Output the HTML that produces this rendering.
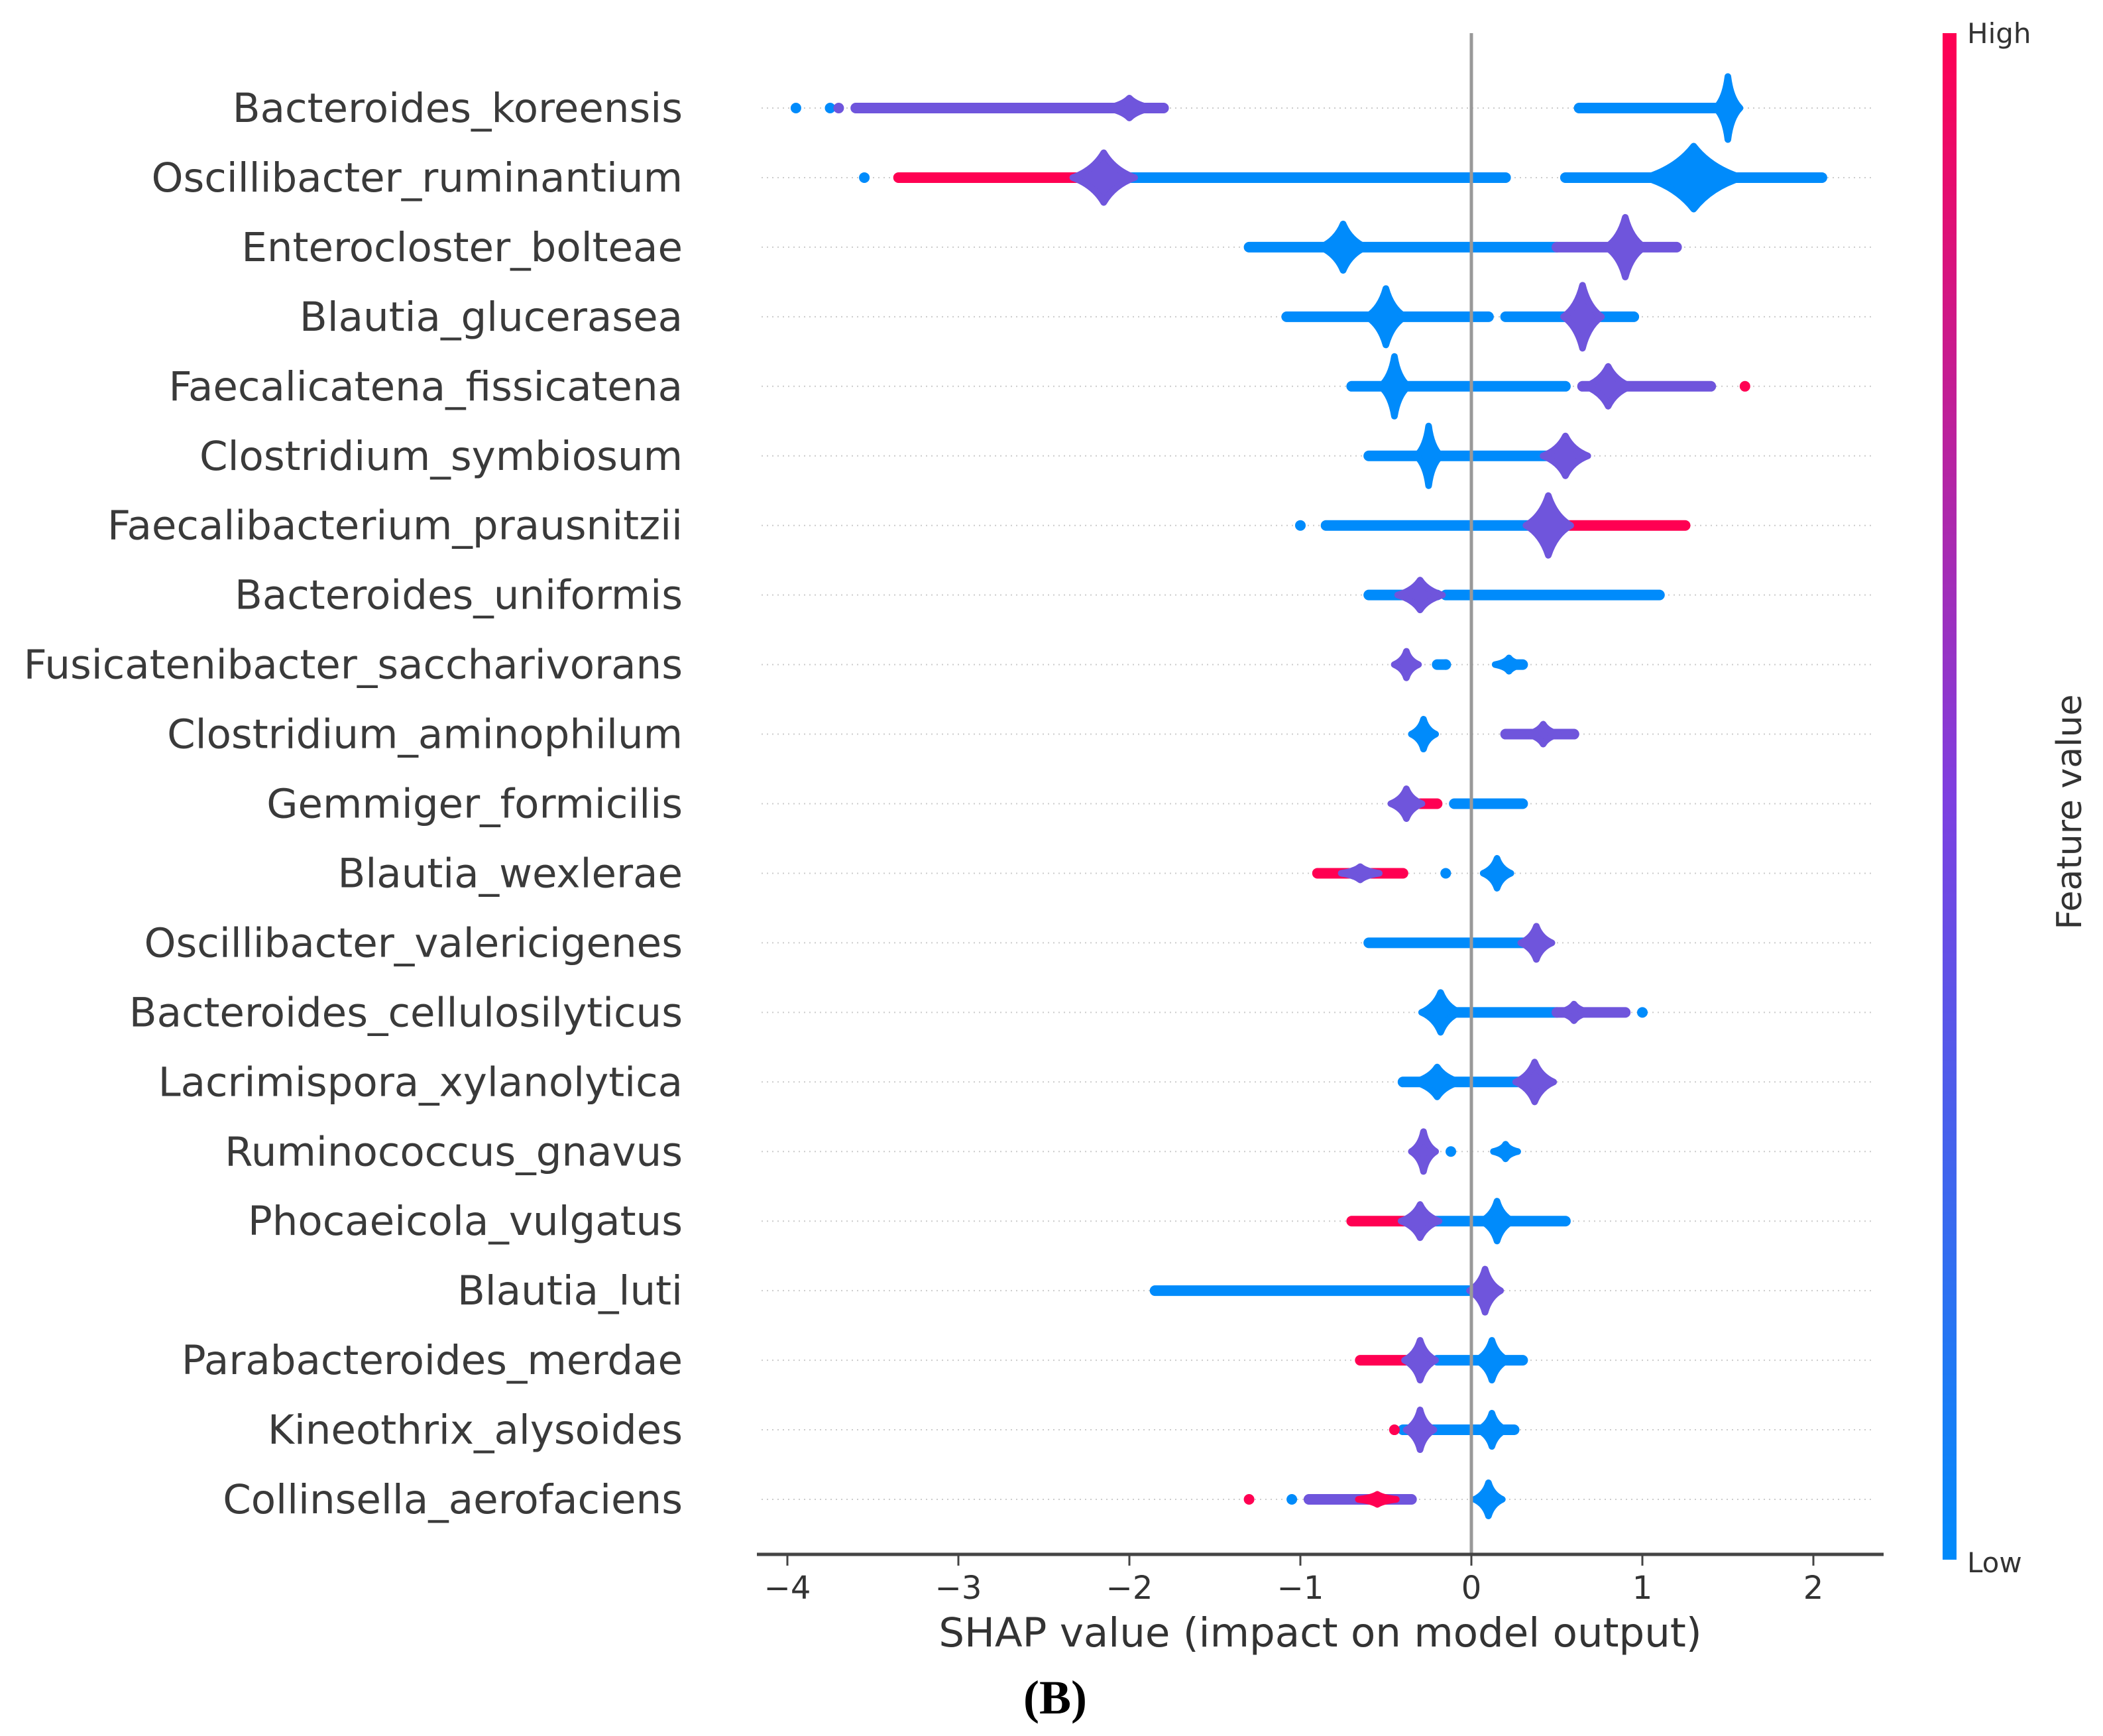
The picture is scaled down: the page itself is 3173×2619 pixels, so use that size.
<!DOCTYPE html>
<html><head><meta charset="utf-8"><style>
html,body{margin:0;padding:0;background:#fff;}
svg{display:block;}
text{font-family:"DejaVu Sans","Liberation Sans",sans-serif;}
</style></head><body>
<svg id="chart" width="3173" height="2619" viewBox="0 0 3173 2619" xmlns="http://www.w3.org/2000/svg">
<defs>
<linearGradient id="cbar" x1="0" y1="0" x2="0" y2="1">
<stop offset="0" stop-color="#ff0052"/><stop offset="0.5" stop-color="#7e3fe0"/><stop offset="1" stop-color="#008bfb"/>
</linearGradient>
</defs>
<g id="grid"></g>
<g id="marks"></g>
<line x1="2220" y1="50" x2="2220" y2="2345" stroke="#999" stroke-width="5"/>
<g id="axis"></g>
<text x="1992" y="2484" font-size="61" text-anchor="middle" fill="#333">SHAP value (impact on model output)</text>
<text x="1592" y="2585" font-size="72" font-weight="bold" text-anchor="middle" fill="#000" style="font-family:'Liberation Serif',serif">(B)</text>
<rect x="2931" y="50" width="21" height="2303" fill="url(#cbar)"/>
<text x="2968" y="65" font-size="42" fill="#333">High</text>
<text x="2968" y="2372" font-size="42" fill="#333">Low</text>
<text transform="translate(3140,1225) rotate(-90)" font-size="52" text-anchor="middle" fill="#333">Feature value</text>
</svg>
<script>
const features = ["Bacteroides_koreensis","Oscillibacter_ruminantium","Enterocloster_bolteae","Blautia_glucerasea","Faecalicatena_fissicatena","Clostridium_symbiosum","Faecalibacterium_prausnitzii","Bacteroides_uniformis","Fusicatenibacter_saccharivorans","Clostridium_aminophilum","Gemmiger_formicilis","Blautia_wexlerae","Oscillibacter_valericigenes","Bacteroides_cellulosilyticus","Lacrimispora_xylanolytica","Ruminococcus_gnavus","Phocaeicola_vulgatus","Blautia_luti","Parabacteroides_merdae","Kineothrix_alysoides","Collinsella_aerofaciens"];
const xTicks = [-4,-3,-2,-1,0,1,2];
const xTickLabels = ["\u22124","\u22123","\u22122","\u22121","0","1","2"];
// bands: [row, shapMin, shapMax, colour]
const bands = [
[0,-3.6,-1.8,"m"],[0,0.63,1.5,"b"],
[1,-3.35,-2.1,"r"],[1,-2.1,0.2,"b"],[1,0.55,2.05,"b"],
[2,-1.3,0.5,"b"],[2,0.5,1.2,"m"],
[3,-1.08,0.1,"b"],[3,0.2,0.95,"b"],
[4,-0.7,0.55,"b"],[4,0.65,1.4,"m"],
[5,-0.6,0.5,"b"],
[6,-0.85,0.5,"b"],[6,0.5,1.25,"r"],
[7,-0.6,-0.2,"b"],[7,-0.15,1.1,"b"],
[8,-0.2,-0.15,"b"],[8,0.2,0.3,"b"],
[9,0.2,0.6,"m"],
[10,-0.3,-0.2,"r"],[10,-0.1,0.3,"b"],
[11,-0.9,-0.4,"r"],
[12,-0.6,0.4,"b"],
[13,-0.2,0.5,"b"],[13,0.5,0.9,"m"],
[14,-0.4,0.45,"b"],
[16,-0.7,-0.25,"r"],[16,-0.25,0.55,"b"],
[17,-1.85,0.1,"b"],
[18,-0.65,-0.25,"r"],[18,-0.2,0.3,"b"],
[19,-0.4,0.25,"b"],
[20,-0.95,-0.35,"m"]
];
// blobs: [row, shapCentre, shapHalfWidth, density, colour]
const blobs = [
[0,-2.0,0.1,3,"m"],[0,1.5,0.04,9.5,"b"],
[1,-2.15,0.15,7.5,"m"],[1,1.3,0.25,9.5,"b"],
[2,-0.75,0.1,7,"b"],[2,0.9,0.08,9,"m"],
[3,-0.5,0.08,8.5,"b"],[3,0.65,0.08,9.5,"m"],
[4,-0.45,0.05,9,"b"],[4,0.8,0.1,6,"m"],
[5,-0.25,0.04,9,"b"],[5,0.55,0.1,6,"m"],
[6,0.45,0.1,9,"m"],
[7,-0.3,0.1,4.5,"m"],
[8,-0.38,0.04,4,"m"],[8,0.22,0.05,2,"b"],
[9,-0.28,0.04,4.5,"b"],[9,0.42,0.06,3,"m"],
[10,-0.38,0.06,4.5,"m"],
[11,-0.65,0.08,2,"m"],[11,0.15,0.05,4.5,"b"],
[12,0.38,0.06,5,"m"],
[13,-0.18,0.08,6,"b"],[13,0.6,0.06,2.5,"m"],
[14,-0.2,0.1,4.5,"b"],[14,0.37,0.08,6,"m"],
[15,-0.28,0.04,6,"m"],[15,0.2,0.04,2.2,"b"],
[16,-0.3,0.08,5,"m"],[16,0.15,0.06,6,"b"],
[17,0.08,0.06,6.5,"m"],
[18,-0.3,0.06,6,"m"],[18,0.12,0.06,6,"b"],
[19,-0.3,0.05,6,"m"],[19,0.12,0.05,5,"b"],
[20,-0.55,0.08,1.5,"r"],[20,0.1,0.05,5,"b"]
];
// single dots: [row, shap, colour]
const dots = [
[0,-3.95,"b"],[0,-3.75,"b"],[0,-3.7,"m"],
[1,-3.55,"b"],
[4,1.6,"r"],
[6,-1.0,"b"],
[8,-0.15,"b"],
[11,-0.15,"b"],
[13,1.0,"b"],
[15,-0.12,"b"],
[19,-0.45,"r"],
[20,-1.3,"r"],[20,-1.05,"b"]
];
const NS="http://www.w3.org/2000/svg";
const colours={b:"#008bfb",r:"#ff0052",m:"#6f55dc"};
const X0=2220, UNIT=258, ROW0=163, ROWH=104.95, DOT=8, DENS=5;
function xs(v){return X0+v*UNIT;}
function ys(i){return ROW0+i*ROWH;}
const grid=document.getElementById('grid');
const marks=document.getElementById('marks');
const axis=document.getElementById('axis');
const chart=document.getElementById('chart');
features.forEach((f,i)=>{
  const l=document.createElementNS(NS,'line');
  
  
  l.setAttribute('x1',1149);l.setAttribute('x2',2827);
  l.setAttribute('y1',ys(i));l.setAttribute('y2',ys(i));
  l.setAttribute('stroke','#ccc');l.setAttribute('stroke-width',2);l.setAttribute('stroke-dasharray','2 6');
  grid.appendChild(l);
  const t=document.createElementNS(NS,'text');
  
  
  t.setAttribute('x',1030);t.setAttribute('y',ys(i)+21);
  t.setAttribute('text-anchor','end');t.setAttribute('font-size',61);t.setAttribute('fill','#3a3a3a');
  t.textContent=f;
  chart.appendChild(t);
});
bands.forEach(b=>{
  const r=document.createElementNS(NS,'rect');
  
  
  r.setAttribute('x',xs(b[1])-DOT);r.setAttribute('width',xs(b[2])-xs(b[1])+2*DOT);
  r.setAttribute('y',ys(b[0])-DOT);r.setAttribute('height',2*DOT);
  r.setAttribute('rx',DOT);r.setAttribute('fill',colours[b[3]]);
  marks.appendChild(r);
});
blobs.forEach(b=>{
  const cx=xs(b[1]), cy=ys(b[0]), hw=b[2]*UNIT, hh=b[3]*DENS;
  const p=document.createElementNS(NS,'path');
  
  
  const d=`M${cx-hw-DOT},${cy} Q${cx-hw*0.4},${cy-hh*0.3} ${cx},${cy-hh} Q${cx+hw*0.4},${cy-hh*0.3} ${cx+hw+DOT},${cy} Q${cx+hw*0.4},${cy+hh*0.3} ${cx},${cy+hh} Q${cx-hw*0.4},${cy+hh*0.3} ${cx-hw-DOT},${cy}Z`;
  p.setAttribute('d',d);p.setAttribute('fill',colours[b[4]]);
  p.setAttribute('stroke',colours[b[4]]);p.setAttribute('stroke-width',10);p.setAttribute('stroke-linejoin','round');
  marks.appendChild(p);
});
dots.forEach(d=>{
  const c=document.createElementNS(NS,'circle');
  
  
  c.setAttribute('cx',xs(d[1]));c.setAttribute('cy',ys(d[0]));c.setAttribute('r',DOT);
  c.setAttribute('fill',colours[d[2]]);
  marks.appendChild(c);
});
const al=document.createElementNS(NS,'line');


al.setAttribute('x1',1142);al.setAttribute('x2',2842);al.setAttribute('y1',2345);al.setAttribute('y2',2345);
al.setAttribute('stroke','#444');al.setAttribute('stroke-width',5);
axis.appendChild(al);
xTicks.forEach((v,i)=>{
  const tk=document.createElementNS(NS,'line');
  
  
  tk.setAttribute('x1',xs(v));tk.setAttribute('x2',xs(v));tk.setAttribute('y1',2345);tk.setAttribute('y2',2362);
  tk.setAttribute('stroke','#444');tk.setAttribute('stroke-width',3);
  axis.appendChild(tk);
  const t=document.createElementNS(NS,'text');
  
  
  t.setAttribute('x',xs(v));t.setAttribute('y',2412);t.setAttribute('text-anchor','middle');
  t.setAttribute('font-size',48);t.setAttribute('fill','#333');
  t.textContent=xTickLabels[i];
  axis.appendChild(t);
});
</script>
</body></html>
